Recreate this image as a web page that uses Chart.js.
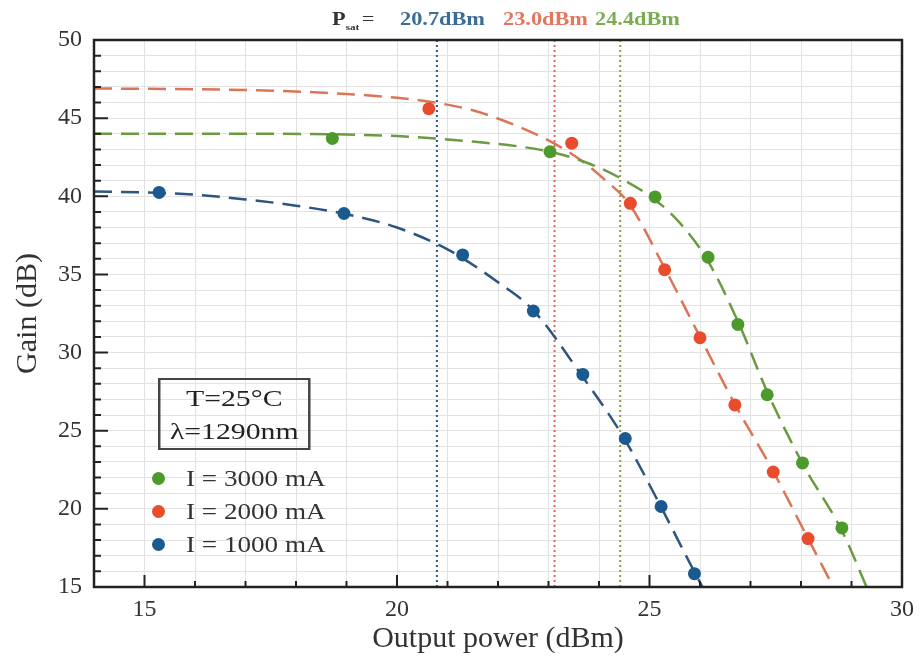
<!DOCTYPE html>
<html>
<head>
<meta charset="utf-8">
<script src="https://cdn.jsdelivr.net/npm/chart.js@4"></script>
<style>
  html, body { margin: 0; padding: 0; background: #fff; }
  #wrap { position: relative; width: 920px; height: 663px; font-family: "Liberation Serif", "DejaVu Serif", serif; }
  #chart { position: absolute; left: 0; top: 0; }
  .wide { transform: scaleX(1.24); transform-origin: 0 0; }
  .psat { position: absolute; top: 7px; font-weight: bold; font-size: 18px; white-space: nowrap; line-height: 24px; }
  #tbox { position: absolute; left: 158px; top: 378px; width: 119px; height: 66px; padding-top: 2px; border: 2px solid #444;
          text-align: center; font-size: 24px; line-height: 33px; color: #222; transform: scaleX(1.24); transform-origin: 0 0; }
  .dot { position: absolute; left: 152px; width: 13px; height: 13px; border-radius: 50%; }
  .leg { position: absolute; left: 186px; font-size: 23px; color: #333; white-space: nowrap; line-height: 26px; transform: scaleX(1.18); transform-origin: 0 0; }
</style>
</head>
<body>
<div id="wrap">
  <canvas id="chart" width="920" height="663"></canvas>
  <div class="psat wide" style="left:332px;color:#333">P<sub style="font-size:9px">sat</sub><span style="font-weight:normal;margin-left:2px">=</span></div>
  <div class="psat wide" style="left:400px;color:#3a6c9c">20.7dBm</div>
  <div class="psat wide" style="left:503px;color:#e5765c">23.0dBm</div>
  <div class="psat wide" style="left:595px;color:#7aad52">24.4dBm</div>
  <div id="tbox">T=25°C<br>λ=1290nm</div>
  <div class="dot" style="top:472px;background:#4c9a2c"></div>
  <div class="dot" style="top:505px;background:#e84c2c"></div>
  <div class="dot" style="top:538px;background:#1b5a8e"></div>
  <div class="leg" style="top:466px">I = 3000 mA</div>
  <div class="leg" style="top:499px">I = 2000 mA</div>
  <div class="leg" style="top:532px">I = 1000 mA</div>
</div>
<script>
// measured points
const blueX = [15.29, 18.95, 21.3, 22.7, 23.68, 24.52, 25.23, 25.89];
const blueY = [40.25, 38.9, 36.25, 32.66, 28.6, 24.5, 20.15, 15.85];
const orangeX = [20.63, 23.46, 24.62, 25.3, 26.0, 26.69, 27.45, 28.14];
const orangeY = [45.6, 43.4, 39.55, 35.3, 30.95, 26.65, 22.36, 18.1];
const greenX = [18.72, 23.03, 25.11, 26.16, 26.75, 27.33, 28.03, 28.81];
const greenY = [43.7, 42.85, 39.96, 36.1, 31.8, 27.3, 22.94, 18.78];

// fitted curves
const blueFitX = [14, 15, 16, 17, 18, 19, 20, 21, 22, 22.7, 23.6, 24.5, 25.2, 25.9, 26.05];
const blueFitY = [40.3, 40.25, 40.1, 39.8, 39.4, 38.85, 38.0, 36.6, 34.5, 32.7, 28.8, 24.5, 20.3, 15.9, 15.0];
const orangeFitX = [14, 17, 19, 20, 20.75, 21.5, 22.3, 23.1, 23.6, 24.1, 24.6, 25.3, 26.0, 26.69, 27.45, 28.14, 28.64];
const orangeFitY = [46.9, 46.8, 46.55, 46.3, 46.0, 45.5, 44.6, 43.4, 42.4, 41.1, 39.5, 35.4, 31.0, 26.7, 22.4, 18.1, 15.0];
const greenFitX = [14, 17, 20, 21.5, 22.5, 23.1, 23.8, 24.4, 25.1, 25.6, 26.15, 26.75, 27.33, 28.03, 28.81, 29.3];
const greenFitY = [44.0, 44.0, 43.85, 43.5, 43.15, 42.8, 42.1, 41.2, 39.8, 38.3, 35.9, 32.0, 27.5, 22.9, 18.6, 15.0];

// saturation output power markers
const psatX = [20.79, 23.12, 24.42];
const psatColors = ["#2a5a8c", "#e06464", "#8a9c44"];

const xTicks = [15, 20, 25, 30];
const yTicks = [15, 20, 25, 30, 35, 40, 45, 50];

const pts = (xs, ys) => xs.map((x, i) => ({ x, y: ys[i] }));

function pointSet(xs, ys, color) {
  return { data: pts(xs, ys), showLine: false, pointRadius: 6.5, pointBackgroundColor: color, pointBorderWidth: 0 };
}
function fitSet(xs, ys, color) {
  return { data: pts(xs, ys), showLine: true, pointRadius: 0, borderColor: color, borderWidth: 2.5,
           borderDash: [18, 9], cubicInterpolationMode: "monotone" };
}

const vlines = psatX.map((x, i) => ({
  data: [{ x, y: 15 }, { x, y: 50 }], showLine: true, pointRadius: 0,
  borderColor: psatColors[i], borderWidth: 2, borderDash: [2, 3]
}));

// inward ticks and the closed frame
const frameTicks = {
  id: "frameTicks",
  afterDraw(chart) {
    const { ctx, chartArea: a, scales } = chart;
    ctx.save();
    ctx.strokeStyle = "#222";
    ctx.lineWidth = 2;
    ctx.beginPath();
    scales.x.ticks.forEach((t) => {
      const px = scales.x.getPixelForValue(t.value);
      const len = t.value % 5 === 0 ? 12 : 6;
      ctx.moveTo(px, a.bottom); ctx.lineTo(px, a.bottom - len);
    });
    scales.y.ticks.forEach((t) => {
      const py = scales.y.getPixelForValue(t.value);
      const len = t.value % 5 === 0 ? 14 : 7;
      ctx.moveTo(a.left, py); ctx.lineTo(a.left + len, py);
    });
    ctx.stroke();
    ctx.lineWidth = 2.5;
    ctx.strokeRect(a.left, a.top, a.right - a.left, a.bottom - a.top);
    ctx.restore();
  }
};

const serif = "'Liberation Serif', 'DejaVu Serif', serif";

new Chart(document.getElementById("chart"), {
  type: "scatter",
  data: {
    datasets: [
      pointSet(greenX, greenY, "#4c9a2c"),
      pointSet(orangeX, orangeY, "#e84c2c"),
      pointSet(blueX, blueY, "#1b5a8e"),
      fitSet(greenFitX, greenFitY, "#6c9a40"),
      fitSet(orangeFitX, orangeFitY, "#dc7457"),
      fitSet(blueFitX, blueFitY, "#2c5580"),
      ...vlines,
    ],
  },
  options: {
    responsive: false,
    animation: false,
    layout: { padding: { left: 8, top: 40, right: 18, bottom: 4 } },
    plugins: { legend: { display: false }, tooltip: { enabled: false } },
    scales: {
      x: {
        type: "linear", min: 14, max: 30,
        afterFit: (s) => { s.height = 72; s.paddingLeft = 0; s.paddingRight = 0; },
        grid: { color: "#e2e2e2", drawTicks: false },
        border: { display: false },
        ticks: {
          stepSize: 1, autoSkip: false, maxRotation: 0, padding: 8, color: "#333",
          font: { family: serif, size: 24 },
          callback: (v) => (xTicks.includes(v) ? String(v) : ""),
        },
        title: { display: true, text: "Output power (dBm)", color: "#333", font: { family: serif, size: 30 }, padding: 2 },
      },
      y: {
        type: "linear", min: 15, max: 50,
        afterFit: (s) => { s.width = 86; s.paddingTop = 0; s.paddingBottom = 0; },
        grid: { color: "#e2e2e2", drawTicks: false },
        border: { display: false },
        ticks: {
          stepSize: 1, autoSkip: false, padding: 12, color: "#333",
          font: { family: serif, size: 24 },
          callback: (v) => (yTicks.includes(v) ? String(v) : ""),
        },
        title: { display: true, text: "Gain (dB)", color: "#333", font: { family: serif, size: 30 }, padding: 2 },
      },
    },
  },
  plugins: [frameTicks],
});
</script>
</body>
</html>
